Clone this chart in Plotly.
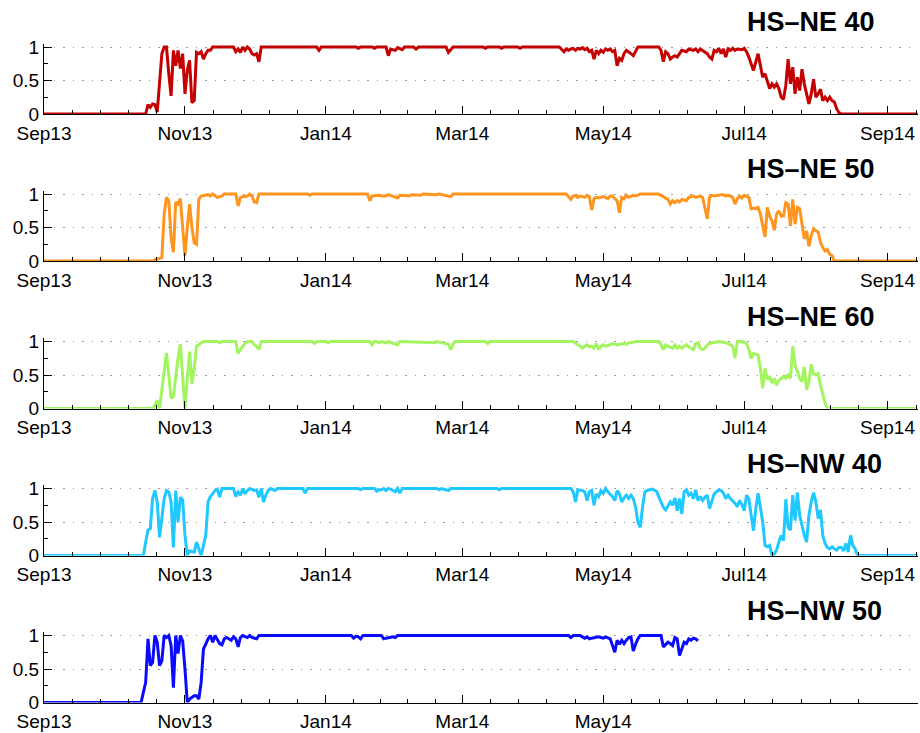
import pandas as pd
import plotly.graph_objects as go

# ---------------------------------------------------------------------------
# Daily snow-cover fraction at five stations (day index counted from 2013-09-01)
# ---------------------------------------------------------------------------
START = pd.Timestamp("2013-09-01")

month_dates = ["2013-09-01", "2013-11-01", "2014-01-01", "2014-03-01",
               "2014-05-01", "2014-07-01", "2014-09-01"]
month_labels = ["Sep13", "Nov13", "Jan14", "Mar14", "May14", "Jul14", "Sep14"]

station_names = ["HS\u2013NE 40", "HS\u2013NE 50", "HS\u2013NE 60",
                 "HS\u2013NW 40", "HS\u2013NW 50"]
station_colors = ["#C40000", "#FF951F", "#A2F55E", "#1FC9FF", "#0A0AFF"]

y_tick_vals = [0, 0.5, 1]
y_tick_text = ["0", "0.5", "1"]

ne40_day = [0, 44, 45, 46, 47, 48, 49, 50, 51, 52,
            53, 54, 55, 56, 57, 58, 59, 60, 61, 62,
            63, 64, 65, 66, 67, 68, 69, 70, 71, 72,
            73, 82, 83, 84, 85, 86, 87, 88, 89, 90,
            91, 92, 93, 94, 118, 119, 120, 135, 136, 137,
            142, 143, 144, 148, 149, 150, 151, 152, 153, 154,
            155, 156, 160, 161, 162, 174, 175, 177, 190, 191,
            192, 197, 198, 199, 205, 206, 207, 223, 224, 225,
            226, 227, 228, 229, 230, 231, 232, 233, 234, 235,
            236, 237, 238, 239, 240, 241, 242, 243, 244, 245,
            246, 247, 248, 249, 250, 251, 252, 253, 254, 255,
            256, 257, 266, 267, 268, 269, 270, 271, 272, 273,
            274, 275, 276, 277, 278, 279, 280, 281, 282, 283,
            284, 285, 286, 287, 288, 289, 290, 291, 292, 293,
            294, 295, 296, 297, 298, 299, 300, 301, 302, 303,
            304, 305, 306, 307, 309, 310, 311, 312, 313, 314,
            315, 316, 317, 318, 319, 320, 321, 322, 323, 324,
            325, 326, 327, 328, 329, 330, 331, 332, 333, 334,
            335, 336, 337, 338, 339, 340, 341, 342, 343, 344,
            345, 378]
ne40_val = [0, 0, 0.14, 0.1, 0.15, 0.14, 0.03, 0.5, 0.9, 1.0,
            1.0, 0.6, 0.27, 0.95, 0.72, 0.95, 0.68, 0.9, 0.3, 0.65,
            0.8, 0.17, 0.2, 0.92, 0.9, 0.93, 0.82, 0.9, 0.95, 0.95,
            1.0, 1.0, 0.93, 0.97, 0.92, 1.0, 0.95, 1.0, 0.97, 0.9,
            0.88, 0.9, 0.78, 1.0, 1.0, 0.95, 1.0, 1.0, 0.98, 1.0,
            1.0, 0.98, 1.0, 1.0, 0.87, 0.97, 0.96, 0.95, 0.99, 0.98,
            0.96, 1.0, 1.0, 0.97, 1.0, 1.0, 0.92, 1.0, 1.0, 0.98,
            1.0, 1.0, 0.98, 1.0, 1.0, 0.98, 1.0, 1.0, 0.97, 0.93,
            0.97, 0.95, 0.97, 0.98, 0.95, 0.98, 0.97, 0.99, 0.96, 0.98,
            0.93, 0.95, 0.82, 0.95, 0.9, 0.95, 0.92, 0.97, 0.95, 0.97,
            0.93, 0.95, 0.72, 0.83, 0.8, 0.9, 0.95, 0.93, 0.9, 0.87,
            0.93, 1.0, 1.0, 0.95, 0.78, 0.93, 0.9, 0.82, 0.85, 0.87,
            0.85, 0.9, 0.95, 0.94, 0.93, 0.97, 0.96, 0.95, 0.97, 0.93,
            0.97, 0.95, 0.92, 0.9, 0.85, 0.82, 0.95, 0.93, 0.98, 0.9,
            0.97, 0.85, 0.97, 0.95, 0.98, 0.95, 0.97, 0.97, 0.96, 0.98,
            0.93, 0.85, 0.75, 0.65, 0.9, 0.72, 0.55, 0.6, 0.5, 0.38,
            0.45, 0.4, 0.45, 0.38, 0.25, 0.22, 0.43, 0.82, 0.45, 0.7,
            0.3, 0.55, 0.35, 0.67, 0.45, 0.3, 0.15, 0.3, 0.52, 0.25,
            0.3, 0.37, 0.2, 0.25, 0.2, 0.25, 0.2, 0.18, 0.08, 0.02,
            0, 0]

ne50_day = [0, 47, 48, 49, 50, 51, 52, 53, 54, 55,
            56, 57, 58, 59, 60, 61, 62, 63, 64, 65,
            66, 67, 68, 69, 71, 72, 73, 75, 77, 78,
            83, 84, 85, 86, 88, 89, 90, 91, 92, 93,
            114, 115, 116, 140, 141, 142, 145, 146, 148, 149,
            153, 154, 158, 159, 163, 164, 170, 171, 176, 177,
            226, 227, 228, 229, 230, 231, 232, 233, 234, 235,
            236, 237, 238, 239, 240, 241, 242, 243, 244, 245,
            246, 247, 248, 249, 250, 251, 252, 253, 254, 255,
            256, 257, 258, 266, 267, 268, 269, 270, 271, 272,
            273, 274, 275, 276, 277, 278, 279, 280, 281, 282,
            283, 284, 285, 286, 287, 288, 289, 290, 291, 292,
            293, 294, 295, 296, 297, 298, 299, 300, 301, 302,
            303, 304, 305, 306, 307, 308, 309, 310, 311, 312,
            313, 314, 315, 316, 317, 318, 319, 320, 321, 322,
            323, 324, 325, 326, 327, 328, 329, 330, 331, 332,
            333, 334, 335, 336, 337, 338, 339, 340, 341, 342,
            378]
ne50_val = [0, 0, 0.02, 0.03, 0.04, 0.05, 0.7, 0.95, 0.9, 0.35,
            0.13, 0.88, 0.85, 0.93, 0.5, 0.08, 0.5, 0.85, 0.5, 0.27,
            0.25, 0.92, 0.97, 0.98, 0.99, 0.97, 1.0, 0.95, 0.97, 1.0,
            1.0, 0.82, 0.95, 0.96, 0.97, 1.0, 0.97, 0.88, 0.87, 1.0,
            1.0, 0.98, 1.0, 1.0, 0.9, 0.97, 0.98, 0.97, 0.97, 0.99,
            0.94, 0.98, 0.97, 0.99, 0.98, 1.0, 0.99, 1.0, 0.96, 1.0,
            1.0, 0.96, 0.92, 0.97, 0.98, 0.95, 0.97, 0.96, 0.95, 0.98,
            0.96, 0.76, 0.93, 0.95, 0.94, 0.95, 0.96, 0.95, 0.93, 0.97,
            0.97, 0.93, 0.9, 0.72, 0.95, 0.93, 0.98, 0.95, 0.96, 0.98,
            0.97, 0.99, 1.0, 1.0, 0.98, 0.96, 0.94, 0.92, 0.85, 0.9,
            0.87, 0.9, 0.88, 0.92, 0.91, 0.9, 0.95, 0.96, 0.97, 0.95,
            0.96, 0.97, 0.95, 0.8, 0.63, 0.95, 0.98, 0.97, 0.97, 0.98,
            0.99, 0.99, 0.97, 0.98, 0.97, 0.95, 0.85, 0.93, 0.97, 0.94,
            0.98, 0.97, 0.95, 0.78, 0.79, 0.78, 0.8, 0.7, 0.5, 0.36,
            0.8, 0.67, 0.6, 0.46, 0.7, 0.75, 0.67, 0.67, 0.87, 0.85,
            0.52, 0.92, 0.55, 0.8, 0.78, 0.55, 0.33, 0.45, 0.22, 0.38,
            0.48, 0.45, 0.43, 0.28, 0.2, 0.15, 0.17, 0.1, 0.08, 0.0,
            0]

ne60_day = [0, 47, 48, 49, 50, 51, 52, 53, 54, 55,
            56, 57, 58, 59, 60, 61, 62, 63, 64, 65,
            66, 67, 68, 69, 75, 76, 77, 83, 84, 85,
            86, 87, 88, 90, 91, 92, 93, 94, 116, 117,
            118, 122, 123, 124, 141, 142, 143, 144, 145, 146,
            148, 149, 153, 154, 169, 170, 175, 176, 177, 178,
            191, 192, 193, 229, 230, 231, 232, 233, 234, 235,
            236, 237, 238, 239, 240, 241, 242, 243, 244, 245,
            246, 247, 248, 249, 250, 251, 252, 253, 255, 256,
            266, 267, 268, 269, 270, 271, 272, 273, 274, 275,
            276, 277, 278, 279, 280, 281, 282, 283, 284, 285,
            286, 287, 288, 290, 292, 294, 296, 298, 299, 300,
            302, 304, 305, 306, 307, 309, 310, 311, 312, 313,
            314, 315, 316, 317, 318, 319, 320, 321, 322, 323,
            324, 325, 326, 327, 328, 329, 330, 331, 332, 333,
            334, 335, 336, 337, 338, 339, 378]
ne60_val = [0, 0, 0.05, 0.12, 0.0, 0.3, 0.6, 0.83, 0.5, 0.15,
            0.18, 0.5, 0.75, 0.96, 0.5, 0.0, 0.45, 0.85, 0.37, 0.6,
            0.93, 0.95, 0.97, 1.0, 1.0, 0.98, 1.0, 1.0, 0.82, 0.88,
            0.93, 0.97, 1.0, 1.0, 0.95, 0.93, 0.88, 1.0, 1.0, 0.97,
            1.0, 1.0, 0.98, 1.0, 1.0, 0.95, 1.0, 1.0, 0.98, 1.0,
            0.98, 1.0, 0.95, 1.0, 0.98, 1.0, 0.96, 0.88, 0.96, 1.0,
            1.0, 0.97, 1.0, 1.0, 0.97, 0.95, 0.93, 0.9, 0.93, 0.95,
            0.92, 0.93, 0.9, 0.97, 0.88, 0.93, 0.95, 0.93, 0.94, 0.95,
            0.97, 0.96, 0.95, 0.96, 0.97, 0.97, 0.96, 0.98, 0.99, 1.0,
            1.0, 0.95, 0.88, 0.95, 0.93, 0.91, 0.9, 0.95, 0.9, 0.93,
            0.9, 0.93, 0.95, 0.92, 0.9, 0.88, 0.97, 0.98, 0.9, 0.88,
            0.9, 0.95, 0.97, 0.98, 1.0, 0.99, 0.97, 0.93, 0.75, 1.0,
            1.0, 0.97, 0.88, 0.75, 0.82, 0.8, 0.6, 0.3, 0.6, 0.43,
            0.48, 0.38, 0.45, 0.35, 0.42, 0.45, 0.48, 0.45, 0.5, 0.45,
            0.93, 0.65, 0.55, 0.45, 0.4, 0.62, 0.28, 0.4, 0.66, 0.52,
            0.5, 0.52, 0.35, 0.2, 0.08, 0.0, 0]

nw40_day = [0, 43, 44, 45, 46, 47, 48, 49, 50, 51,
            52, 53, 54, 55, 56, 57, 58, 59, 60, 61,
            62, 63, 64, 65, 66, 67, 68, 69, 70, 71,
            72, 73, 74, 75, 76, 77, 82, 83, 84, 85,
            86, 87, 88, 89, 90, 91, 92, 93, 94, 95,
            96, 97, 98, 100, 101, 112, 113, 114, 136, 137,
            138, 143, 144, 145, 146, 147, 148, 149, 150, 152,
            153, 154, 155, 170, 171, 172, 175, 176, 196, 197,
            198, 228, 229, 230, 231, 232, 233, 234, 235, 236,
            237, 238, 239, 240, 241, 242, 243, 244, 245, 246,
            247, 248, 249, 250, 251, 252, 253, 254, 255, 256,
            257, 258, 259, 260, 261, 262, 263, 265, 266, 267,
            268, 269, 270, 271, 272, 273, 274, 275, 276, 277,
            278, 279, 280, 281, 282, 283, 284, 285, 286, 287,
            288, 289, 290, 291, 292, 293, 294, 295, 296, 297,
            298, 299, 300, 301, 302, 303, 304, 305, 306, 307,
            308, 309, 310, 311, 312, 313, 314, 315, 316, 317,
            318, 319, 320, 321, 322, 323, 324, 325, 326, 327,
            328, 329, 330, 331, 332, 333, 334, 335, 336, 337,
            338, 339, 340, 341, 342, 343, 344, 345, 346, 347,
            348, 349, 350, 351, 352, 378]
nw40_val = [0, 0, 0.2, 0.38, 0.4, 0.85, 0.97, 0.8, 0.27, 0.6,
            0.85, 0.97, 0.95, 0.8, 0.12, 0.97, 0.5, 0.87, 0.83, 0.3,
            0.0, 0.07, 0.06, 0.05, 0.2, 0.08, 0.0, 0.15, 0.3, 0.8,
            0.88, 0.92, 0.97, 0.99, 0.87, 1.0, 1.0, 0.88, 0.95, 0.9,
            1.0, 0.92, 0.97, 1.0, 0.98, 0.97, 0.98, 0.87, 1.0, 0.8,
            0.9, 0.97, 1.0, 0.97, 1.0, 1.0, 0.93, 1.0, 1.0, 0.98,
            1.0, 1.0, 0.96, 0.98, 0.98, 1.0, 0.97, 1.0, 0.99, 0.95,
            1.0, 0.93, 1.0, 1.0, 0.98, 1.0, 0.97, 1.0, 1.0, 0.98,
            1.0, 1.0, 0.95, 0.8, 0.98, 0.98, 0.97, 0.95, 0.82, 0.95,
            0.97, 0.75, 0.92, 0.88, 0.97, 0.93, 1.0, 0.95, 0.92, 0.88,
            0.82, 0.97, 0.92, 0.8, 0.86, 0.9, 0.85, 0.9, 0.85, 0.72,
            0.5, 0.42, 0.72, 0.95, 0.97, 0.98, 0.99, 0.96, 0.88, 0.8,
            0.72, 0.68, 0.75, 0.8, 0.75, 0.86, 0.67, 0.85, 0.62, 0.95,
            0.98, 0.9, 0.93, 0.85, 0.98, 0.82, 0.88, 0.82, 0.87, 0.9,
            0.7, 0.8, 0.92, 0.95, 0.98, 0.97, 0.93, 0.85, 0.9, 0.85,
            0.82, 0.78, 0.73, 0.82, 0.76, 0.67, 0.9, 0.85, 0.6, 0.37,
            0.7, 0.93, 0.72, 0.5, 0.15, 0.13, 0.15, 0.0, 0.02, 0.08,
            0.2, 0.3, 0.22, 0.84, 0.42, 0.38, 0.9, 0.52, 0.94, 0.6,
            0.45, 0.3, 0.2, 0.6, 0.8, 0.94, 0.8, 0.55, 0.68, 0.3,
            0.18, 0.12, 0.1, 0.13, 0.1, 0.08, 0.12, 0.12, 0.07, 0.18,
            0.05, 0.3, 0.15, 0.1, 0.0, 0]

nw50_day = [0, 42, 43, 44, 45, 46, 47, 48, 49, 50,
            51, 52, 53, 54, 55, 56, 57, 58, 59, 60,
            61, 62, 63, 64, 65, 66, 67, 68, 69, 70,
            71, 72, 73, 74, 76, 77, 78, 79, 81, 82,
            83, 84, 85, 86, 88, 89, 90, 92, 93, 133,
            134, 135, 136, 137, 138, 146, 147, 148, 150, 151,
            152, 153, 227, 228, 229, 232, 233, 234, 235, 236,
            237, 238, 239, 240, 241, 242, 243, 244, 245, 246,
            247, 248, 249, 250, 251, 252, 253, 254, 255, 256,
            257, 258, 267, 268, 269, 270, 271, 272, 273, 274,
            275, 276, 277, 278, 279, 280, 281, 282, 283]
nw50_val = [0, 0, 0.15, 0.3, 0.95, 0.55, 0.6, 1.0, 0.9, 0.55,
            0.62, 1.0, 0.97, 1.0, 0.85, 0.22, 1.0, 0.73, 1.0, 0.92,
            0.5, 0.0, 0.05, 0.08, 0.1, 0.1, 0.05, 0.3, 0.8, 0.87,
            0.95, 1.0, 0.9, 1.0, 0.88, 0.86, 0.95, 0.97, 0.93, 0.98,
            0.95, 0.83, 0.97, 1.0, 0.97, 1.0, 0.97, 0.95, 1.0, 1.0,
            0.96, 0.99, 0.98, 0.95, 1.0, 1.0, 0.95, 0.96, 0.98, 0.98,
            0.97, 1.0, 1.0, 0.97, 1.0, 1.0, 0.98, 0.96, 0.98, 0.95,
            0.96, 0.97, 0.97, 0.98, 0.97, 0.96, 0.98, 0.97, 0.95, 0.85,
            0.75, 0.93, 0.87, 0.93, 0.88, 0.93, 0.97, 0.98, 0.77, 0.87,
            0.95, 1.0, 1.0, 0.83, 0.87, 0.9, 0.88, 0.85, 0.97, 0.95,
            0.7, 0.82, 0.9, 0.88, 0.95, 0.93, 0.96, 0.95, 0.92]

series_days = [ne40_day, ne50_day, ne60_day, nw40_day, nw50_day]
series_vals = [ne40_val, ne50_val, ne60_val, nw40_val, nw50_val]

# ---------------------------------------------------------------------------
# Layout geometry (pixels for a 920 x 733 page)
# ---------------------------------------------------------------------------
W, H = 920, 733
LEFT, RIGHT = 44, 2
panel_bottoms = [114, 261, 408.5, 555.5, 702.5]   # pixel row of the zero line
Y_TOP = 1.05                                       # y range upper bound
unit_px = 67                                       # pixels per unit of y
panel_h = unit_px * Y_TOP

x_end = START + pd.Timedelta(days=378.2)

# major / minor date ticks
major = pd.to_datetime(month_dates)
minor = []
for a, b in zip(major[:-1], major[1:]):
    step = (b - a) / 5
    minor += [a + step * k for k in range(1, 5)]
minor.append(major[-1] + (major[-1] - major[-2]) / 5)

# the last panel only labels up to May14; its short ticks stop in late August
last_major = list(major[:5])
last_minor = [m for m in minor if m <= START + pd.Timedelta(days=354)] + [major[5]]

tick_font = dict(family="Liberation Sans, Arial, sans-serif", size=19, color="black")

fig = go.Figure()
layout = dict(
    width=W, height=H,
    margin=dict(l=LEFT, r=RIGHT, t=0, b=0, autoexpand=False),
    paper_bgcolor="white", plot_bgcolor="white",
    showlegend=False,
    font=tick_font,
)

annotations = []
for i, (name, color, days, vals) in enumerate(
        zip(station_names, station_colors, series_days, series_vals)):
    n = i + 1
    xa = "x" if n == 1 else f"x{n}"
    ya = "y" if n == 1 else f"y{n}"
    dates = START + pd.to_timedelta(days, unit="D")
    fig.add_trace(go.Scatter(
        x=dates, y=vals, mode="lines",
        line=dict(color=color, width=3),
        xaxis=xa, yaxis=ya, hoverinfo="skip",
    ))

    b = panel_bottoms[i]
    y0 = (H - b) / H
    y1 = (H - b + panel_h) / H

    is_last = (i == 4)
    tv = last_major if is_last else list(major)
    tt = month_labels[:5] if is_last else month_labels
    mv = last_minor if is_last else minor

    layout["xaxis" if n == 1 else f"xaxis{n}"] = dict(
        domain=[0, 1], anchor=ya, automargin=False,
        range=[START, x_end], type="date",
        tickmode="array", tickvals=tv, ticktext=tt,
        ticks="inside", ticklen=8, tickwidth=1, tickcolor="black",
        ticklabelstandoff=2,
        minor=dict(tickmode="array", tickvals=mv, ticks="inside",
                   ticklen=4, tickwidth=1, tickcolor="black", showgrid=False),
        showline=True, linecolor="black", linewidth=1,
        showgrid=False, zeroline=False,
        tickfont=tick_font,
    )
    layout["yaxis" if n == 1 else f"yaxis{n}"] = dict(
        domain=[y0, y1], anchor=xa, automargin=False,
        range=[0, Y_TOP],
        tickmode="array", tickvals=y_tick_vals, ticktext=y_tick_text,
        ticks="inside", ticklen=8, tickwidth=1, tickcolor="black",
        minor=dict(tickmode="array", tickvals=[0.25, 0.75], ticks="inside",
                   ticklen=4, tickwidth=1, tickcolor="black", showgrid=False),
        showline=True, linecolor="black", linewidth=1,
        showgrid=True, gridcolor="#9a9a9a", gridwidth=1, griddash="1.5px,8px",
        zeroline=False,
        tickfont=tick_font,
    )

    # station label, bold, above the right part of each panel
    annotations.append(dict(
        text=f"<b>{name}</b>",
        xref="paper", yref="paper",
        x=(745 - LEFT) / (W - LEFT - RIGHT),
        y=(H - (b - 92)) / H,
        xanchor="left", yanchor="middle",
        showarrow=False,
        font=dict(family="Liberation Sans, Arial, sans-serif", size=27, color="black"),
    ))

layout["annotations"] = annotations
fig.update_layout(**layout)

fig.write_html("out.html")
